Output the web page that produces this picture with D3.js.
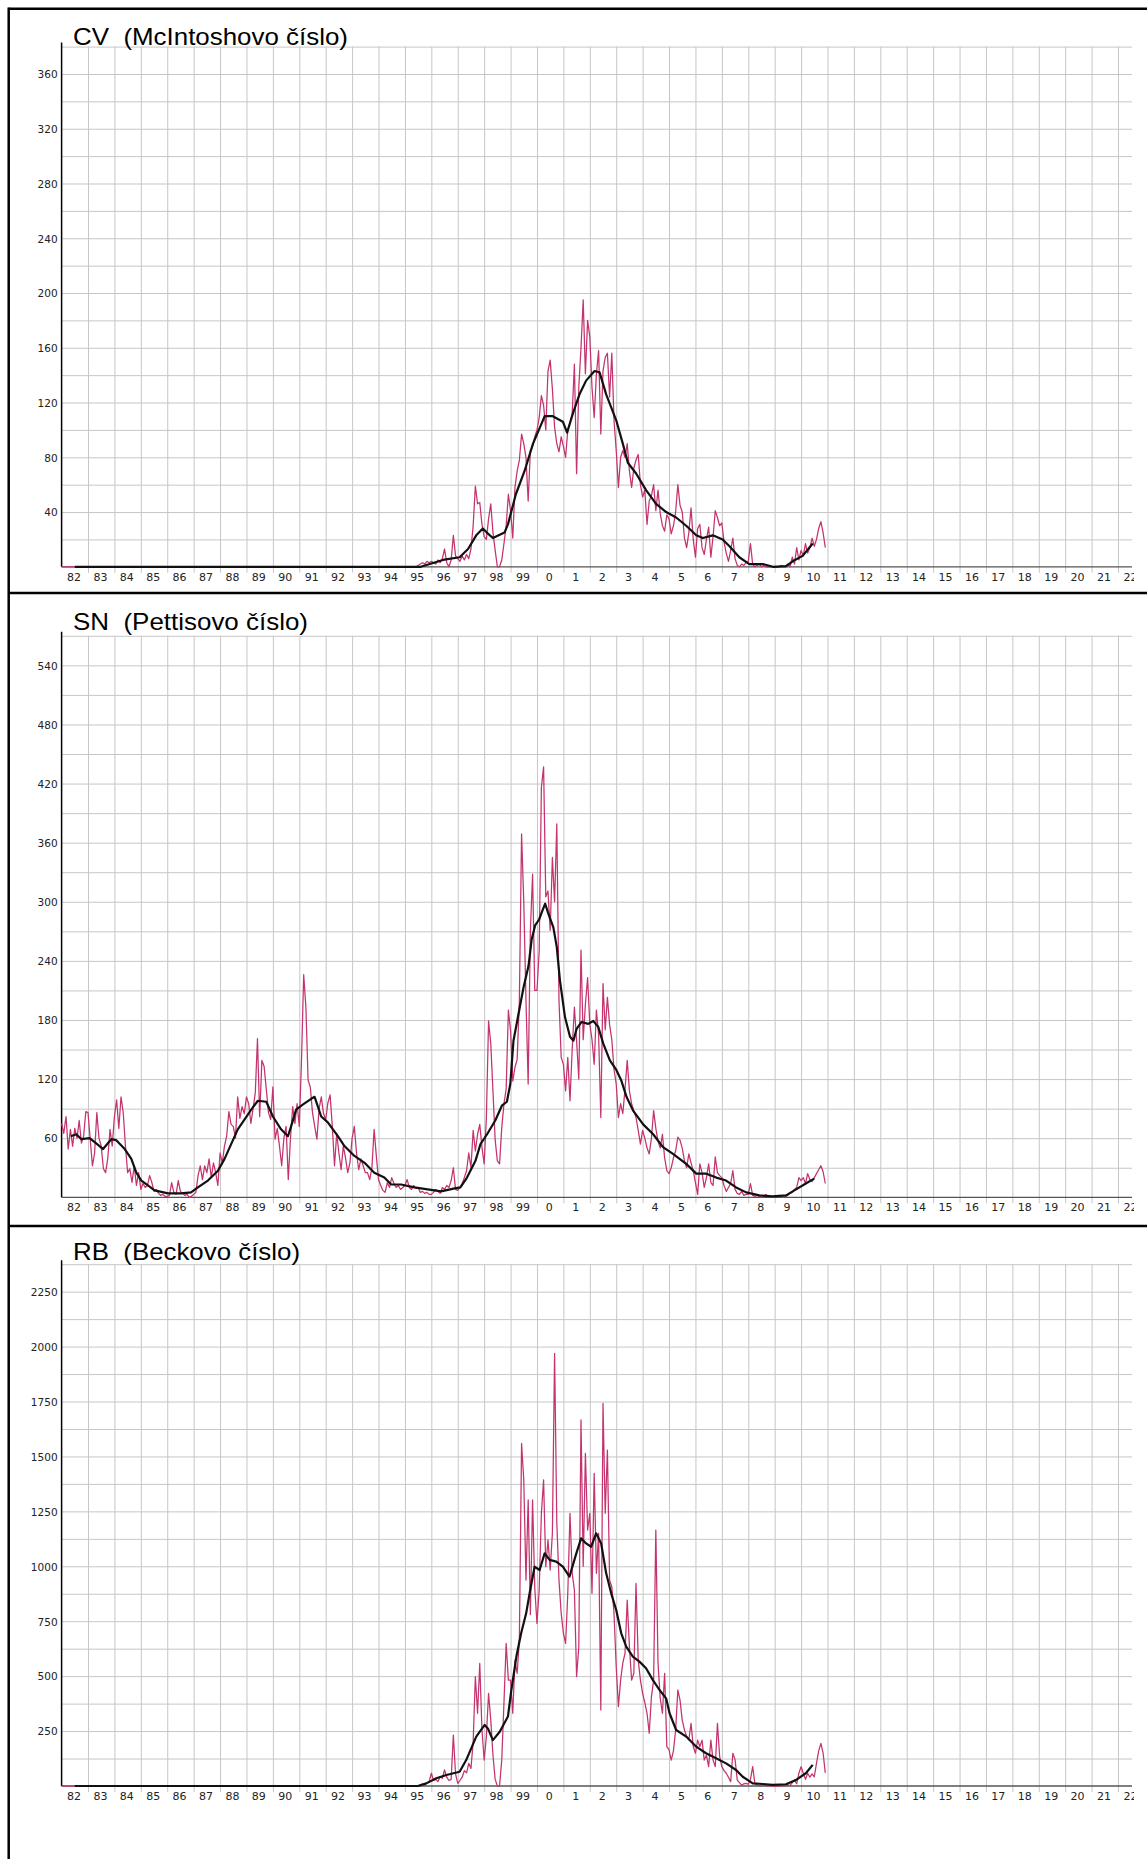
<!DOCTYPE html>
<html>
<head>
<meta charset="utf-8">
<script src="https://cdnjs.cloudflare.com/ajax/libs/d3/7.8.5/d3.min.js"></script>
<style>
    body { margin: 0; background: #ffffff; }
    svg { display: block; }
    .panel-title { font-family: "Liberation Sans", Arial, sans-serif; font-size: 24px; fill: #000; white-space: pre; }
    .tick-lbl text { font-family: "DejaVu Sans", sans-serif; font-size: 10.5px; fill: #222; }
    .tick-lbl.x-lbl text { font-size: 11px; }
</style>
</head>
<body>
<div id="chart"></div>
<script>
// x axis categories (one per year, 1982 .. 2022)
const xTickLabels = ['82','83','84','85','86','87','88','89','90','91','92','93','94','95','96','97','98','99',
    '0','1','2','3','4','5','6','7','8','9','10','11','12','13','14','15','16','17','18','19','20','21','22'];
const firstYear = 1982;

// monthly values, one row per year starting Jan 1982
const cvMonthly = [
    0,0,0,0,0,0,0,0,0,0,0,0,  0,0,0,0,0,0,0,0,0,0,0,0,  0,0,0,0,0,0,0,0,0,0,0,0,
    0,0,0,0,0,0,0,0,0,0,0,0,  0,0,0,0,0,0,0,0,0,0,0,0,  0,0,0,0,0,0,0,0,0,0,0,0,
    0,0,0,0,0,0,0,0,0,0,0,0,  0,0,0,0,0,0,0,0,0,0,0,0,  0,0,0,0,0,0,0,0,0,0,0,0,
    0,0,0,0,0,0,0,0,0,0,0,0,  0,0,0,0,0,0,0,0,0,0,0,0,  0,0,0,0,0,0,0,0,0,0,0,0,
    0,0,0,0,0,0,0,0,0,0,0,0,
    0,0,0,0,0,0,1,2,3,2,4,3,
    4,3,2,5,3,6,13,3,0,5,23,8,
    6,4,8,5,9,6,13,30,59,46,47,31,
    22,20,35,46,25,12,0,0,5,17,30,53,
    41,21,58,70,78,97,90,80,48,85,88,95,
    100,109,125,118,100,143,151,130,102,90,84,95,
    88,80,100,105,112,148,68,131,160,195,141,180,
    168,131,109,141,158,97,143,153,156,124,156,107,
    85,58,80,85,80,90,70,58,72,78,82,60,
    51,56,31,48,52,60,41,56,39,30,26,38,
    35,24,30,40,60,45,40,21,14,25,43,20,
    7,28,31,14,9,20,29,7,22,41,36,30,
    32,18,10,4,12,21,6,1,0,2,1,3,
    4,17,2,0,1,2,0,1,0,0,0,0,
    0,0,0,1,0,0,2,0,7,2,14,5,
    12,8,17,10,14,21,15,20,28,33,25,14
];

const snMonthly = [
    75,65,82,49,69,52,70,60,78,55,62,87,
    86,59,32,45,86,60,52,29,25,40,69,52,
    82,99,70,102,86,52,25,29,15,32,12,25,
    8,14,10,12,22,15,6,8,4,2,3,1,
    1,2,15,5,3,17,6,4,2,3,0,1,
    3,5,22,32,18,32,25,39,20,35,25,12,
    45,35,52,62,87,74,72,60,102,80,92,85,
    102,95,75,90,106,161,82,139,133,110,86,79,
    112,59,70,52,32,60,72,18,60,92,75,95,
    72,139,226,193,119,112,86,72,59,90,102,85,
    79,96,104,72,32,65,45,28,52,40,25,35,
    60,72,45,28,39,32,25,25,18,30,69,42,
    18,12,7,5,15,10,20,14,10,12,8,10,
    12,18,10,8,12,9,10,5,6,4,5,3,
    3,5,8,6,4,10,8,12,10,17,30,8,
    7,10,14,20,27,45,30,68,47,64,74,51,
    34,80,179,156,108,58,37,34,71,95,110,190,
    169,118,132,140,200,369,300,200,115,271,328,210,
    210,250,416,437,305,311,271,345,300,379,200,142,
    135,108,142,98,150,193,159,120,251,160,196,223,
    176,160,135,190,165,81,217,170,203,175,160,130,
    115,81,95,85,110,139,108,95,88,81,68,54,
    68,60,50,44,60,88,70,57,50,64,40,27,
    24,30,40,47,61,58,50,37,30,44,35,27,
    15,3,34,25,10,20,34,15,12,41,25,22,
    20,12,6,10,14,27,8,4,3,6,2,3,
    3,14,2,1,2,1,0,1,3,1,1,0,
    1,1,2,1,0,1,2,4,5,8,10,20,
    17,20,14,24,18,16,20,24,28,32,26,14
];

const rbMonthly = [
    0,0,0,0,0,0,0,0,0,0,0,0,  0,0,0,0,0,0,0,0,0,0,0,0,  0,0,0,0,0,0,0,0,0,0,0,0,
    0,0,0,0,0,0,0,0,0,0,0,0,  0,0,0,0,0,0,0,0,0,0,0,0,  0,0,0,0,0,0,0,0,0,0,0,0,
    0,0,0,0,0,0,0,0,0,0,0,0,  0,0,0,0,0,0,0,0,0,0,0,0,  0,0,0,0,0,0,0,0,0,0,0,0,
    0,0,0,0,0,0,0,0,0,0,0,0,  0,0,0,0,0,0,0,0,0,0,0,0,  0,0,0,0,0,0,0,0,0,0,0,0,
    0,0,0,0,0,0,0,0,0,0,0,0,
    0,0,0,0,0,0,2,5,10,3,15,20,
    58,25,30,20,42,35,73,40,25,30,232,55,
    12,25,40,70,60,103,80,200,498,331,558,255,
    118,225,422,300,140,30,0,0,120,380,649,482,
    482,331,573,513,664,1559,1393,937,1302,780,1302,900,
    740,892,1241,1393,998,1120,983,1150,1969,1200,937,786,
    695,649,877,1241,968,892,498,634,1666,1000,1514,1165,
    1241,877,1423,968,1150,346,1741,1241,1529,937,907,786,
    543,361,482,560,604,846,634,482,513,922,573,482,
    422,380,331,240,406,482,1165,558,400,331,513,179,
    164,118,160,255,437,391,300,255,225,210,285,180,
    149,209,180,209,118,140,88,209,118,88,285,134,
    88,70,58,40,20,149,120,27,15,4,10,12,
    8,30,88,12,3,2,0,5,2,0,3,0,
    0,0,2,0,3,0,5,2,15,27,10,58,
    88,58,30,58,40,55,42,103,160,194,150,60
];

// smoothed curves, [year, value]
const cvSmooth = [
    [1982.5,0],[1995.6,0],[1995.94,2],[1996.44,5],[1997.07,7],[1997.39,13],[1997.7,23],[1997.95,28],
    [1998.1,25],[1998.33,21],[1998.77,25],[1998.9,31],[1999.2,53],[1999.53,70],[1999.85,90],
    [2000.16,104],[2000.29,110],[2000.6,110],[2000.98,106],[2001.14,98],[2001.36,112],[2001.61,126],
    [2001.86,136],[2002.18,143],[2002.37,142],[2002.62,126],[2003.0,107],[2003.25,90],[2003.44,76],
    [2003.76,68],[2004.13,56],[2004.51,46],[2004.89,40],[2005.27,36],[2005.65,30],[2006.03,23],
    [2006.28,21],[2006.66,23],[2007.03,20],[2007.29,15],[2007.66,7],[2008.04,2],[2008.55,2],
    [2008.93,0],[2009.43,0.5],[2009.68,4],[2010.06,8],[2010.44,17]
];

const snSmooth = [
    [1982.35,62],[1982.56,64],[1982.75,59],[1983.06,60],[1983.3,55],[1983.57,49],[1983.88,59],
    [1984.07,58],[1984.39,49],[1984.64,39],[1984.83,25],[1985.02,17],[1985.27,12],[1985.52,7],
    [1986.03,4],[1986.53,4],[1986.9,5],[1987.16,10],[1987.54,17],[1987.92,27],[1988.17,39],
    [1988.42,54],[1988.67,69],[1988.93,79],[1989.18,89],[1989.43,98],[1989.75,97],[1990.0,82],
    [1990.31,69],[1990.57,62],[1990.69,72],[1990.88,89],[1991.13,94],[1991.45,100],[1991.58,102],
    [1991.83,82],[1992.08,76],[1992.46,62],[1992.71,52],[1993.09,42],[1993.47,35],[1993.84,25],
    [1994.22,20],[1994.48,13],[1994.85,13],[1995.36,10],[1995.86,8],[1996.37,6],[1996.88,9],
    [1997.1,10],[1997.35,20],[1997.67,37],[1997.86,54],[1998.11,64],[1998.42,78],[1998.67,93],
    [1998.86,97],[1998.99,115],[1999.11,159],[1999.3,186],[1999.49,213],[1999.68,235],[1999.8,262],
    [1999.93,276],[2000.08,282],[2000.22,292],[2000.31,298],[2000.43,288],[2000.62,274],[2000.75,254],
    [2000.87,220],[2001.06,183],[2001.25,163],[2001.38,159],[2001.5,171],[2001.69,178],[2001.94,176],
    [2002.13,179],[2002.32,173],[2002.51,156],[2002.76,139],[2003.01,129],[2003.2,118],[2003.39,102],
    [2003.64,88],[2004.02,74],[2004.4,64],[2004.77,51],[2005.15,44],[2005.65,34],[2006.03,24],
    [2006.41,24],[2006.79,20],[2007.16,17],[2007.54,10],[2007.92,5],[2008.42,2],[2008.92,1],
    [2009.43,2],[2009.81,8],[2010.18,14],[2010.5,19]
];

const rbSmooth = [
    [1982.5,0],[1995.5,0],[1995.81,12],[1996.19,35],[1996.57,50],[1997.07,65],[1997.32,118],
    [1997.7,225],[1998.02,278],[1998.14,262],[1998.33,209],[1998.59,247],[1998.9,316],[1999.03,437],
    [1999.22,589],[1999.4,695],[1999.59,786],[1999.72,877],[1999.91,998],[2000.1,983],[2000.29,1059],
    [2000.48,1029],[2000.73,1021],[2000.98,998],[2001.23,953],[2001.49,1059],[2001.67,1127],
    [2001.86,1104],[2002.05,1089],[2002.24,1150],[2002.43,1104],[2002.62,968],[2002.81,877],
    [2003.0,801],[2003.19,695],[2003.38,634],[2003.63,589],[2003.88,566],[2004.13,536],[2004.39,482],
    [2004.64,437],[2004.89,399],[2005.02,331],[2005.27,255],[2005.65,225],[2006.03,179],[2006.4,149],
    [2006.78,126],[2007.16,103],[2007.54,73],[2007.79,42],[2008.17,12],[2008.55,9],[2008.93,5],
    [2009.43,8],[2009.8,27],[2010.18,58],[2010.44,96]
];

// y grid steps / label steps / grid max per panel
const cvGrid = { max: 380, step: 20, label: 40 };
const snGrid = { max: 570, step: 30, label: 60 };
const rbGrid = { max: 2375, step: 125, label: 250 };

const W = 1147, H = 1859;
const plotLeft = 61.6, plotRight = 1132;
const redColor = '#c4336f';

const panels = [
    { title: 'CV  (McIntoshovo číslo)', titleW: 275, titleY: 45, sepY: null, top: 46.6, axisY: 566.8,
      grid: cvGrid, monthly: cvMonthly, smooth: cvSmooth },
    { title: 'SN  (Pettisovo číslo)', titleW: 235, titleY: 630, sepY: 593, top: 635.8, axisY: 1197.3,
      grid: snGrid, monthly: snMonthly, smooth: snSmooth },
    { title: 'RB  (Beckovo číslo)', titleW: 227, titleY: 1259.5, sepY: 1226, top: 1264.2, axisY: 1786,
      grid: rbGrid, monthly: rbMonthly, smooth: rbSmooth }
];

const svg = d3.select('#chart').append('svg')
    .attr('width', W)
    .attr('height', H)
    .attr('viewBox', `0 0 ${W} ${H}`);

svg.append('defs').append('clipPath').attr('id', 'plot-clip')
    .append('rect').attr('x', 0).attr('y', 0).attr('width', plotRight + 2).attr('height', H);

const x = d3.scaleLinear()
    .domain([firstYear, firstYear + 40.53])
    .range([plotLeft, plotRight]);

const yearBounds = d3.range(1, xTickLabels.length).map((i) => firstYear + i);
const yearCentres = xTickLabels.map((_, i) => firstYear + i + 0.45);

panels.forEach((p) => {
    const y = d3.scaleLinear().domain([0, p.grid.max]).range([p.axisY, p.top]);
    const g = svg.append('g');

    // horizontal grid
    g.append('g')
        .attr('transform', `translate(${plotLeft},0)`)
        .call(d3.axisLeft(y)
            .tickValues(d3.range(p.grid.step, p.grid.max + 1, p.grid.step))
            .tickSize(-(plotRight - plotLeft))
            .tickFormat(''))
        .call((a) => a.select('.domain').remove())
        .call((a) => a.selectAll('.tick line').attr('stroke', '#c6c6c6').attr('stroke-width', 1));

    // vertical grid (runs a few px below the axis as tick marks)
    g.append('g')
        .attr('transform', `translate(0,${p.axisY + 6})`)
        .call(d3.axisBottom(x)
            .tickValues(yearBounds.filter((v) => x(v) <= plotRight))
            .tickSize(-(p.axisY + 6 - p.top))
            .tickFormat(''))
        .call((a) => a.select('.domain').remove())
        .call((a) => a.selectAll('.tick line').attr('stroke', '#c6c6c6').attr('stroke-width', 1));

    // y labels
    g.append('g')
        .attr('class', 'tick-lbl')
        .attr('transform', `translate(${plotLeft - 4},0)`)
        .call(d3.axisLeft(y)
            .tickValues(d3.range(p.grid.label, p.grid.max, p.grid.label))
            .tickSize(0)
            .tickPadding(0)
            .tickFormat(d3.format('d')))
        .call((a) => a.select('.domain').remove())
        .call((a) => a.selectAll('text').attr('dy', '0.36em').attr('font-family', null).attr('font-size', null));

    // x labels, clipped just past the plot's right edge
    g.append('g')
        .attr('class', 'tick-lbl x-lbl')
        .attr('clip-path', 'url(#plot-clip)')
        .attr('transform', `translate(0,${p.axisY})`)
        .call(d3.axisBottom(x)
            .tickValues(yearCentres)
            .tickSize(0)
            .tickPadding(6)
            .tickFormat((d, i) => xTickLabels[i]))
        .call((a) => a.select('.domain').remove())
        .call((a) => a.selectAll('text').attr('dy', '0.71em').attr('font-family', null).attr('font-size', null));

    // x axis line
    g.append('line')
        .attr('x1', plotLeft).attr('x2', plotRight)
        .attr('y1', p.axisY).attr('y2', p.axisY)
        .attr('stroke', '#555').attr('stroke-width', 1.3);

    // y axis line
    g.append('line')
        .attr('x1', plotLeft).attr('x2', plotLeft)
        .attr('y1', p.top - 4).attr('y2', p.axisY)
        .attr('stroke', '#000').attr('stroke-width', 1.5);

    // monthly series
    const monthly = p.monthly.map((v, i) => [firstYear + i / 12, v]);
    g.append('path')
        .datum(monthly)
        .attr('fill', 'none')
        .attr('stroke', redColor)
        .attr('stroke-width', 1.25)
        .attr('stroke-linejoin', 'round')
        .attr('d', d3.line().x((d) => x(d[0])).y((d) => y(d[1])));

    // smoothed series
    g.append('path')
        .datum(p.smooth)
        .attr('fill', 'none')
        .attr('stroke', '#111')
        .attr('stroke-width', 2.2)
        .attr('stroke-linejoin', 'round')
        .attr('d', d3.line().x((d) => x(d[0])).y((d) => y(d[1])));

    // title
    g.append('text')
        .attr('class', 'panel-title')
        .attr('x', 73)
        .attr('y', p.titleY)
        .attr('textLength', p.titleW)
        .attr('lengthAdjust', 'spacingAndGlyphs')
        .attr('xml:space', 'preserve')
        .text(p.title);

    if (p.sepY !== null) {
        svg.append('line')
            .attr('x1', 8.7).attr('x2', W)
            .attr('y1', p.sepY).attr('y2', p.sepY)
            .attr('stroke', '#000').attr('stroke-width', 2.5);
    }
});

// outer frame: top and left
svg.append('line').attr('x1', 8.7).attr('x2', W).attr('y1', 8.7).attr('y2', 8.7)
    .attr('stroke', '#000').attr('stroke-width', 2.5);
svg.append('line').attr('x1', 8.7).attr('x2', 8.7).attr('y1', 7.5).attr('y2', H)
    .attr('stroke', '#000').attr('stroke-width', 2.5);
</script>
</body>
</html>
